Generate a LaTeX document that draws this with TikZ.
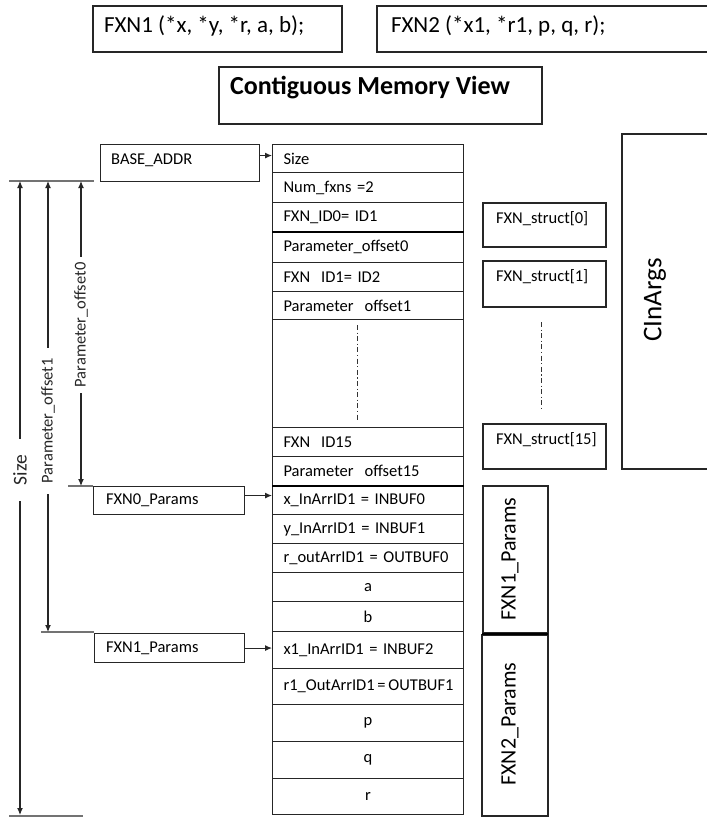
\documentclass[tikz,border=0pt]{standalone}
\usepackage{fontspec}
\setmainfont{Carlito}
\usetikzlibrary{arrows.meta}
\begin{document}
\begin{tikzpicture}[x=1pt,y=-1pt,
  box/.style={draw=black!85, line width=1.1pt, rectangle},
  txt/.style={inner sep=0pt, anchor=west, font=\fontsize{16.5}{19}\selectfont},
  cell/.style={draw=black!85, line width=1.1pt, rectangle, anchor=north west,
    minimum width=191pt, text width=169pt, inner xsep=11pt, inner ysep=0pt,
    align=left, font=\fontsize{16.5}{19}\selectfont},
  ccell/.style={cell, align=center},
  arr/.style={-{Latex[length=7pt,width=6pt]}, line width=1.1pt, black!85},
  darr/.style={{Latex[length=7pt,width=6pt]}-{Latex[length=7pt,width=6pt]}, line width=1.1pt, black!85},
  tick/.style={line width=1.3pt, black!55},
  vlbl/.style={fill=white, rotate=90, inner ysep=1pt, font=\fontsize{16.5}{19}\selectfont},
  ddash/.style={line width=0.9pt, black!80, dash pattern=on 5pt off 2.5pt on 1.2pt off 2.5pt},
  thickline/.style={line width=2.2pt, black}
]
\useasboundingbox (0,0) rectangle (707,817);
\fill[white] (0,0) rectangle (707,817);

% top boxes
\draw[box] (93,6) rectangle (342,52);
\node[txt, font=\fontsize{23}{27}\selectfont] (fxn1) at (104,26) {FXN1 (*x, *y, *r, a, b);};
\draw[box] (377,6) rectangle (712,52);
\node[txt, font=\fontsize{23}{27}\selectfont] (fxn2) at (391,26) {FXN2 (*x1, *r1, p, q, r);};
\draw[box] (219,67) rectangle (542,124);
\node[txt, font=\fontsize{26}{31}\bfseries] (cmv) at (230,88) {Contiguous Memory View};

% memory column
\node[cell, minimum height=28pt] (r1) at (272,144) {Size};
\node[cell, minimum height=30pt] (r2) at (272,172) {Num\_fxns =2};
\node[cell, minimum height=29pt] (r3) at (272,202) {FXN\_ID0= ID1};
\node[cell, minimum height=31pt] (r4) at (272,231) {Parameter\_offset0};
\node[cell, minimum height=29pt] (r5) at (272,262) {FXN\ \ ID1= ID2};
\node[cell, minimum height=28pt] (r6) at (272,291) {Parameter\ \ offset1};
\node[cell, minimum height=108pt] (r7) at (272,319) {};
\node[cell, minimum height=29pt] (r8) at (272,427) {FXN\ \ ID15};
\node[cell, minimum height=29pt] (r9) at (272,456) {Parameter\ \ offset15};
\node[cell, minimum height=29pt] (r10) at (272,485) {x\_InArrID1 = INBUF0};
\node[cell, minimum height=29pt] (r11) at (272,514) {y\_InArrID1 = INBUF1};
\node[cell, minimum height=29pt] (r12) at (272,543) {r\_outArrID1 = OUTBUF0};
\node[ccell, minimum height=29pt] (r13) at (272,572) {a};
\node[ccell, minimum height=30pt] (r14) at (272,601) {b};
\node[cell, minimum height=37pt] (r15) at (272,631) {x1\_InArrID1 = INBUF2};
\node[cell, minimum height=36pt] (r16) at (272,668) {\mbox{r1\_OutArrID1\,=\,OUTBUF1}};
\node[ccell, minimum height=37pt] (r17) at (272,704) {p};
\node[ccell, minimum height=37pt] (r18) at (272,741) {q};
\node[ccell, minimum height=36pt] (r19) at (272,778) {r};
\draw[thickline] (r3.south west) -- (r3.south east);
\draw[thickline] (r9.south west) -- (r9.south east);
\draw[ddash] (357,325) -- (357,420);

% struct boxes
\draw[box] (483,203) rectangle (606,247);
\node[txt] (s0) at (496,219) {FXN\_struct[0]};
\draw[box] (483,261) rectangle (606,307);
\node[txt] (s1) at (496,277) {FXN\_struct[1]};
\draw[ddash] (541,322) -- (541,411);
\draw[box] (483,424) rectangle (606,469);
\node[txt] (s15) at (496,440) {FXN\_struct[15]};

% CInArgs
\draw[box] (622,134) rectangle (712,469);
\node[rotate=90, font=\fontsize{27}{32}\selectfont] (cin) at (655,300) {CInArgs};

% params boxes right
\draw[box] (483,486) rectangle (548,633);
\node[rotate=90, font=\fontsize{22}{26}\selectfont] (p1r) at (510,559) {FXN1\_Params};
\draw[box] (482,635) rectangle (548,816);
\draw[thickline] (482,634) -- (548,634);
\node[rotate=90, font=\fontsize{22}{26}\selectfont] (p2r) at (510,724) {FXN2\_Params};

% left boxes
\node[box, anchor=north west, minimum width=159pt, minimum height=37pt] (base) at (100,144) {};
\node[txt] (baset) at (111,160) {BASE\_ADDR};
\node[box, anchor=north west, minimum width=151pt, minimum height=28pt] (f0p) at (93,486) {};
\node[txt] (f0pt) at (106,500) {FXN0\_Params};
\node[box, anchor=north west, minimum width=150pt, minimum height=29pt] (f1p) at (94,633) {};
\node[txt] (f1pt) at (106,648) {FXN1\_Params};

\draw[arr] ([yshift=7.5pt]base.east) -- ([yshift=7.5pt]base.east -| r1.west);
\draw[arr] ([yshift=5pt]f0p.east) -- ([yshift=5pt]f0p.east -| r10.west);
\draw[arr] (f1p.east) -- (f1p.east -| r15.west);

% dimension lines
\coordinate (tl) at (9,181);
\coordinate (tr) at (94,181);
\coordinate (sTop) at (20,181);
\coordinate (sBot) at (20,815);
\coordinate (p1Top) at (48,181);
\coordinate (p1Bot) at (48,632);
\coordinate (p0Top) at (81,181);
\coordinate (p0Bot) at (81,486);
\coordinate (t0) at (68,486);
\coordinate (t1) at (41,632);
\coordinate (bl) at (9,816);
\coordinate (br) at (83,816);
\draw[tick] (tl) -- (tr);
\draw[tick] (t0) -- (f0p.north west);
\draw[tick] (t1) -- (94,632);
\draw[tick] (bl) -- (br);
\draw[darr] (sTop) -- node[vlbl, inner xsep=16pt, pos=0.456, font=\fontsize{19.5}{23}\selectfont] (lsize) {Size} (sBot);
\draw[darr] (p1Top) -- node[vlbl, inner xsep=11pt, pos=0.532] (lp1) {Parameter\_offset1} (p1Bot);
\draw[darr] (p0Top) -- node[vlbl, inner xsep=6pt, pos=0.472] (lp0) {Parameter\_offset0} (p0Bot);
\end{tikzpicture}
\end{document}
